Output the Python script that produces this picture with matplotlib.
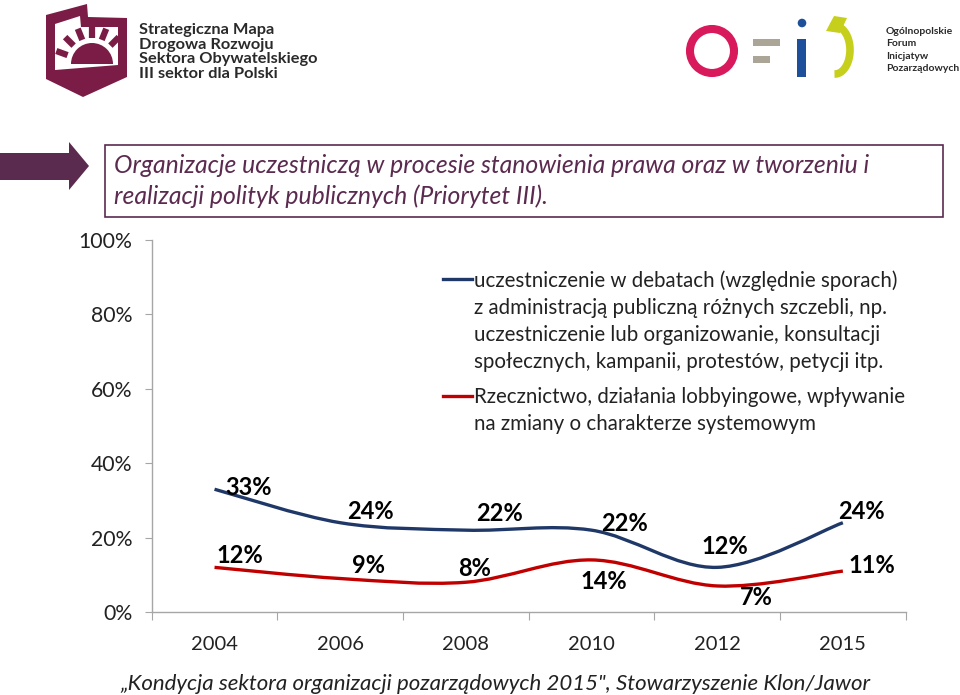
import numpy as np
import matplotlib
matplotlib.use('Agg')
import matplotlib.pyplot as plt
from matplotlib.path import Path
from matplotlib.lines import Line2D
from matplotlib.patches import PathPatch, Polygon, Rectangle, Circle, Wedge

years = ['2004', '2006', '2008', '2010', '2012', '2015']
debaty = [33, 24, 22, 22, 12, 24]
rzecznictwo = [12, 9, 8, 14, 7, 11]
label_debaty = ['uczestniczenie w debatach (względnie sporach)',
                'z administracją publiczną różnych szczebli, np.',
                'uczestniczenie lub organizowanie, konsultacji',
                'społecznych, kampanii, protestów, petycji itp.']
label_rzecz = ['Rzecznictwo, działania lobbyingowe, wpływanie',
               'na zmiany o charakterze systemowym']
yticks = [0, 20, 40, 60, 80, 100]
title = ('Organizacje uczestniczą w procesie stanowienia prawa oraz w tworzeniu i\n'
         'realizacji polityk publicznych (Priorytet III).')
source = '„Kondycja sektora organizacji pozarządowych 2015", Stowarzyszenie Klon/Jawor'

BLUE = '#1f3868'
RED = '#c00000'
PURPLE = '#5b2a4f'
WINE = '#7b1c47'
plt.rcParams['font.family'] = ['Lato', 'DejaVu Sans']

W, H = 960, 695
fig = plt.figure(figsize=(W / 100, H / 100), dpi=100)

# decoration layer in pixel coordinates
deco = fig.add_axes([0, 0, 1, 1])
deco.set_xlim(0, W)
deco.set_ylim(H, 0)
deco.axis('off')

# left logo
deco.add_patch(Polygon([(46, 15), (87, 4), (88, 17), (127, 18), (127, 77), (83, 97), (46, 79)],
                       closed=True, fc=WINE, ec='none'))
deco.add_patch(Polygon([(55, 24), (80, 16), (81, 27), (118, 27), (118, 65), (55, 70)],
                       closed=True, fc='white', ec='none'))
deco.add_patch(Wedge((92, 64), 21, 180, 360, fc=WINE, ec='none'))
for ang in [160, 135, 112, 90, 68, 45]:
    a = np.deg2rad(ang)
    r0, r1 = 26, 38
    deco.plot([92 + r0 * np.cos(a), 92 + r1 * np.cos(a)],
              [64 - r0 * np.sin(a), 64 - r1 * np.sin(a)], color=WINE, lw=4.5,
              solid_capstyle='butt')
deco.text(139, 52, 'Strategiczna Mapa\nDrogowa Rozwoju\nSektora Obywatelskiego\nIII sektor dla Polski',
          fontsize=11.8, fontweight='bold', color='#2a2a2a', va='center', ha='left',
          linespacing=1.05)

# right logo
deco.add_patch(Circle((712, 51), 22, fc='none', ec='#d81a5c', lw=5.8))
deco.add_patch(Rectangle((753, 39), 27, 7, fc='#aaa597', ec='none'))
deco.add_patch(Rectangle((753, 56), 17, 7, fc='#aaa597', ec='none'))
deco.add_patch(Circle((802, 23), 4.3, fc='#1d4f9b', ec='none'))
deco.add_patch(Rectangle((797, 39), 9, 38, fc='#1d4f9b', ec='none'))
th = np.linspace(np.deg2rad(105), np.deg2rad(-92), 40)
deco.plot(835 + 15 * np.cos(th), 50 - 24 * np.sin(th), color='#c6cf1c', lw=5.5,
          solid_capstyle='butt')
deco.add_patch(Polygon([(826, 31), (834, 16), (847, 18), (840, 33)], closed=True,
                       fc='#c6cf1c', ec='none'))
deco.text(886, 50, 'Ogólnopolskie\nForum\nInicjatyw\nPozarządowych', fontsize=7.5,
          fontweight='bold', color='#2a2a2a', va='center', ha='left', linespacing=1.45)

# arrow and title box
deco.add_patch(Polygon([(0, 153), (69, 153), (69, 142), (89, 166), (69, 190), (69, 180), (0, 180)],
                       closed=True, fc=PURPLE, ec='none'))
deco.add_patch(Rectangle((105, 145), 838, 72, fc='white', ec=PURPLE, lw=1.2))
deco.text(114, 181, title, fontsize=17.8, style='italic', color=PURPLE,
          va='center', ha='left', linespacing=1.4)

deco.text(495, 684, source, fontsize=16, style='italic', color='#222222',
          va='center', ha='center')

# main chart
ax = fig.add_axes([151.7 / W, 1 - 612 / H, (905.7 - 151.7) / W, (612 - 240) / H])
ax.patch.set_alpha(0)
x = np.arange(len(years))


def smooth_path(xs, ys):
    pts = np.column_stack([xs, ys]).astype(float)
    ext = np.vstack([pts[0], pts, pts[-1]])
    verts = [pts[0]]
    codes = [Path.MOVETO]
    for i in range(len(pts) - 1):
        p0, p1, p2, p3 = ext[i], ext[i + 1], ext[i + 2], ext[i + 3]
        c1 = p1 + (p2 - p0) / 6.0
        c2 = p2 - (p3 - p1) / 6.0
        verts += [c1, c2, p2]
        codes += [Path.CURVE4] * 3
    return Path(verts, codes)


legends = []
for vals, col, lab, top in [(debaty, BLUE, label_debaty, 270), (rzecznictwo, RED, label_rzecz, 387)]:
    ax.add_patch(PathPatch(smooth_path(x, vals), fc='none', ec=col, lw=2.4, capstyle='butt'))
    hs = [Line2D([], [], color=col, lw=2.4)] + [Line2D([], [], color='none')] * (len(lab) - 1)
    leg = ax.legend(hs, lab, loc='upper left', bbox_to_anchor=(443 / W, 1 - top / H),
                    bbox_transform=fig.transFigure, frameon=False, fontsize=14.8,
                    handlelength=1.4, handletextpad=0.1, labelspacing=0.35, borderpad=0,
                    borderaxespad=0)
    for t in leg.get_texts():
        t.set_color('#222222')
    legends.append(leg)
ax.add_artist(legends[0])

blue_off = [(34, 2), (30, 11), (34, 17), (33, 7), (8, 21), (19, 11)]
red_off = [(25, 12), (28, 13), (9, 14), (12, -22), (39, -12), (29, 6)]
for vals, offs in [(debaty, blue_off), (rzecznictwo, red_off)]:
    for xi, v, o in zip(x, vals, offs):
        ax.annotate(f'{v}%', (xi, v), xytext=o, textcoords='offset pixels',
                    ha='center', va='center', fontsize=17, fontweight='bold', color='black')

ax.set_xlim(-0.5, len(years) - 0.5)
ax.set_ylim(0, 100)
ax.set_yticks(yticks)
ax.set_yticklabels([f'{t}%' for t in yticks])
ax.set_xticks(np.arange(len(years) + 1) - 0.5)
ax.set_xticklabels([])
ax.set_xticks(x, minor=True)
ax.set_xticklabels(years, minor=True)
ax.tick_params(axis='x', which='major', length=6, color='#a6a6a6', direction='out')
ax.tick_params(axis='x', which='minor', length=0, pad=17, labelsize=14.5, labelcolor='#222222')
ax.tick_params(axis='y', length=5, color='#a6a6a6', direction='out', pad=9,
               labelsize=15.3, labelcolor='#222222')
for s in ['top', 'right']:
    ax.spines[s].set_visible(False)
for s in ['left', 'bottom']:
    ax.spines[s].set_color('#a6a6a6')
    ax.spines[s].set_linewidth(1)

fig.savefig('out.png', dpi=100)
